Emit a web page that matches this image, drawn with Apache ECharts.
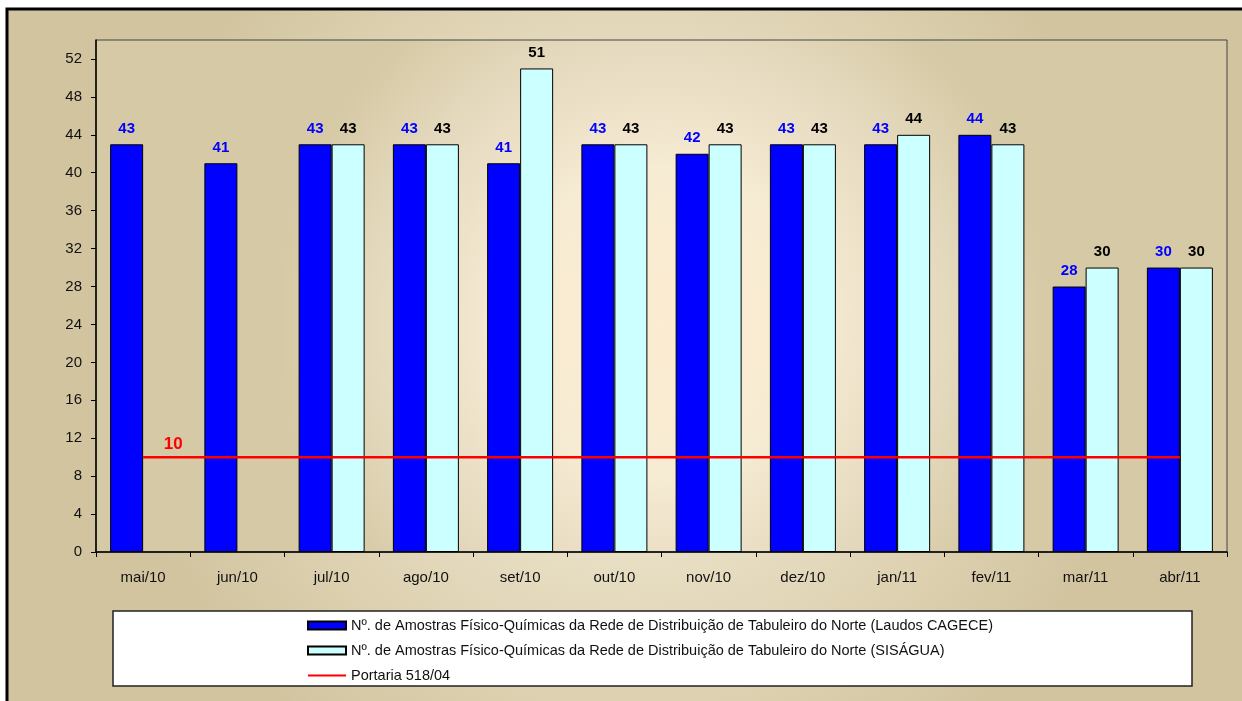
<!DOCTYPE html>
<html>
<head>
<meta charset="utf-8">
<script src="https://cdn.jsdelivr.net/npm/echarts@6/dist/echarts.min.js"></script>
<style>
html,body{margin:0;padding:0;background:#fff;}
#c{width:1242px;height:701px;}
</style>
</head>
<body>
<div id="c"></div>
<script>
var categories = ['mai/10','jun/10','jul/10','ago/10','set/10','out/10','nov/10','dez/10','jan/11','fev/11','mar/11','abr/11'];
var cagece = [43,41,43,43,41,43,42,43,43,44,28,30];
var sisagua = [null,null,43,43,51,43,43,43,44,43,30,30];
var portaria = [10,10,10,10,10,10,10,10,10,10,10,10];
var yTicks = [0,4,8,12,16,20,24,28,32,36,40,44,48,52];
var names = [
  'Nº. de Amostras Físico-Químicas da Rede de Distribuição de Tabuleiro do Norte (Laudos CAGECE)',
  'Nº. de Amostras Físico-Químicas da Rede de Distribuição de Tabuleiro do Norte (SISÁGUA)',
  'Portaria 518/04'
];

var chart = echarts.init(document.getElementById('c'));
var font = '"Liberation Sans", Arial, sans-serif';
var option = {
  animation: false,
  textStyle: {fontFamily: font},
  graphic: [
    {type:'rect', z:-10, shape:{x:7, y:9, width:1250, height:710},
     style:{stroke:'#000', lineWidth:3,
       fill: new echarts.graphic.RadialGradient(0.5, 0.45, 0.72, [
         {offset:0, color:'#f3ead3'},{offset:0.45, color:'#e8dec3'},{offset:1, color:'#d2c49f'}])}},
    {type:'rect', z:-9, shape:{x:96, y:40, width:1131, height:512},
     style:{fill: new echarts.graphic.RadialGradient(0.5, 0.55, 0.75, [
         {offset:0, color:'#fcecd1'},{offset:0.4, color:'#f6ebd3'},{offset:0.75, color:'#e4d9bd'},{offset:1, color:'#d6c9a5'}])}},
    {type:'rect', z:1, shape:{x:113, y:611, width:1079, height:75},
     style:{fill:'#fff', stroke:'#222', lineWidth:1.5}}
  ],
  grid: {left:96, top:40, right:15, bottom:149, show:true, borderColor:'#444', borderWidth:1, backgroundColor:'transparent'},
  legend: {
    orient:'vertical', left:302, top:613, itemWidth:38, itemHeight:8, itemGap:10,
    textStyle:{fontSize:14.5, color:'#111', fontFamily:font, lineHeight:15},
    data:[
      {name:names[0], icon:'rect'},
      {name:names[1], icon:'rect'},
      {name:names[2], icon:'path://M0,0H40V2H0Z', itemStyle:{color:'#ff0000', borderWidth:0}}
    ], z:5
  },
  xAxis: {
    type:'category', data:categories,
    axisLine:{lineStyle:{color:'#000', width:1.5}},
    axisTick:{show:true, length:5, lineStyle:{color:'#000'}},
    axisLabel:{color:'#111', fontSize:15, margin:18, fontFamily:font}
  },
  yAxis: {
    type:'value', min:0, max:54, interval:4,
    axisLine:{show:true, lineStyle:{color:'#000', width:1.5}},
    axisTick:{show:true, length:5, lineStyle:{color:'#000'}, customValues: yTicks},
    axisLabel:{color:'#111', fontSize:15, margin:14, fontFamily:font, customValues: yTicks},
    splitLine:{show:false}
  },
  series: [
    {name:names[0], type:'bar', data:cagece, barWidth:33, barGap:'0%',
     itemStyle:{color:'#0000ff', borderColor:'#000', borderWidth:1},
     label:{show:true, position:'top', distance:8, color:'#0000ff', fontWeight:'bold', fontSize:15, fontFamily:font}},
    {name:names[1], type:'bar', data:sisagua, barWidth:33, barGap:'0%',
     itemStyle:{color:'#ccffff', borderColor:'#000', borderWidth:1},
     label:{show:true, position:'top', distance:8, color:'#000', fontWeight:'bold', fontSize:15, fontFamily:font}},
    {name:names[2], type:'line', symbol:'none', z:5,
     lineStyle:{color:'#ff0000', width:2.5}, itemStyle:{color:'#ff0000'},
     data: portaria.map(function(v,i){
       if(i===0){return {value:v, symbol:'circle', symbolSize:1,
         label:{show:true, position:'top', offset:[30,0], distance:4, color:'#ff0000', fontWeight:'bold', fontSize:17, fontFamily:font}};}
       return v;
     })}
  ]
};
chart.setOption(option);
</script>
</body>
</html>
